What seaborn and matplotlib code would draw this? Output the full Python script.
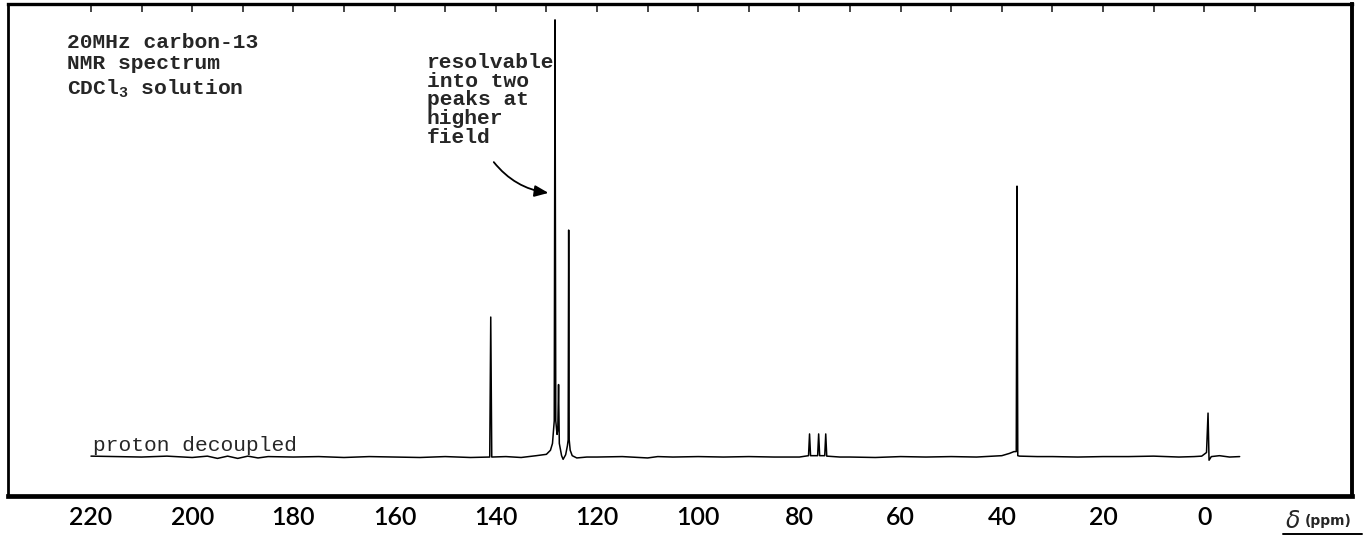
import matplotlib
matplotlib.use("Agg")
import matplotlib.pyplot as plt
import seaborn as sns
import pandas as pd
from matplotlib.patches import FancyArrowPatch
from matplotlib.lines import Line2D

# Estilo base: fondo blanco, sin rejilla
sns.set_theme(style="white")
plt.rcParams['font.family'] = ['Liberation Mono', 'DejaVu Sans']
plt.rcParams['mathtext.fontset'] = 'custom'
plt.rcParams['mathtext.rm'] = 'Liberation Mono:bold'

# Espectro: desplazamiento (ppm) e intensidad (100 = borde superior)
shift_ppm = [
    220.0, 215.0, 210.0, 205.0, 200.0, 197.0, 195.0, 193.0, 191.0, 189.0,
    187.0, 185.0, 180.0, 175.0, 170.0, 165.0, 160.0, 155.0, 150.0, 145.0,
    141.2, 141.0, 140.8, 138.0, 135.0, 132.0, 130.0, 129.2, 128.8, 128.45,
    128.3, 128.15, 127.9, 127.75, 127.6, 127.45, 127.0, 126.7, 126.2, 125.85,
    125.7, 125.6, 125.5, 125.3, 124.9, 124.0, 122.0, 120.0, 115.0, 110.0,
    108.0, 105.0, 100.0, 95.0, 90.0, 85.0, 80.0, 78.2, 78.0, 77.8,
    76.4, 76.2, 76.0, 75.0, 74.8, 74.6, 72.0, 70.0, 65.0, 60.0,
    55.0, 50.0, 45.0, 40.0, 38.5, 37.6, 37.15, 37.0, 36.85, 36.5,
    33.0, 30.0, 25.0, 20.0, 15.0, 10.0, 5.0, 2.0, 0.5, -0.45,
    -0.75, -0.95, -1.4, -3.0, -5.0, -7.0,
]
intensity = [
    0.2, 0.1, 0.0, 0.2, -0.1, 0.2, -0.3, 0.2, -0.3, 0.2,
    -0.2, 0.1, 0.0, 0.1, -0.1, 0.1, 0.0, -0.1, 0.1, -0.1,
    0.0, 30.9, 0.0, 0.1, -0.1, 0.3, 0.6, 1.5, 3.0, 8.0,
    96.5, 8.0, 5.0, 6.0, 16.0, 3.0, 0.3, -0.5, 0.5, 2.5,
    3.8, 50.1, 3.8, 1.5, 0.3, -0.2, 0.0, 0.0, 0.1, -0.2,
    0.1, 0.0, 0.1, 0.0, 0.1, 0.0, 0.0, 0.3, 5.1, 0.3,
    0.3, 5.1, 0.3, 0.3, 5.1, 0.2, 0.0, 0.0, -0.1, 0.1,
    0.0, 0.1, 0.0, 0.3, 0.8, 1.2, 1.2, 59.8, 0.3, 0.2,
    0.1, 0.1, 0.0, 0.1, 0.1, 0.2, 0.0, 0.1, 0.2, 1.0,
    9.7, -0.7, 0.1, 0.3, 0.0, 0.1,
]

# Marcas del eje (cada 10 ppm) y etiquetas (cada 20 ppm)
tick_values = [220, 210, 200, 190, 180, 170, 160, 150, 140, 130, 120, 110,
               100, 90, 80, 70, 60, 50, 40, 30, 20, 10, 0, -10]
tick_labels = ['220', '', '200', '', '180', '', '160', '', '140', '', '120', '',
               '100', '', '80', '', '60', '', '40', '', '20', '', '0', '']

header_lines = ["20MHz carbon-13", "NMR spectrum", r"CDCl$_\mathrm{3}$ solution"]
note_lines = ["resolvable", "into two", "peaks at", "higher", "field"]

W, H = 1369, 536


def fx(x):
    return x / W


def fy(y):
    return 1 - y / H


fig = plt.figure(figsize=(W / 100, H / 100), dpi=100)
ax = fig.add_axes([fx(8), fy(496), (1352 - 8) / W, (496 - 4) / H])

df = pd.DataFrame({'ppm': shift_ppm, 'int': intensity})
sns.lineplot(data=df, x='ppm', y='int', sort=False, estimator=None,
             color='black', lw=1.1, ax=ax)

ax.set_xlim(236.4, -29.2)
ax.set_ylim(-8.6, 100)
ax.set_xlabel('')
ax.set_ylabel('')
ax.set_yticks([])
ax.set_xticks(tick_values)
ax.set_xticklabels(tick_labels)
ax.tick_params(axis='x', direction='in', length=9, width=1.3, pad=7,
               labelsize=18, labelfontfamily='Lato', colors='black')
for lbl in ax.get_xticklabels():
    lbl.set_fontweight('semibold')

# marcas superiores, mas cortas
top = ax.secondary_xaxis('top')
top.set_xticks(tick_values)
top.tick_params(direction='in', length=6, width=1.2, labeltop=False)
top.spines['top'].set_visible(False)

for side, lw in [('left', 2.0), ('top', 2.4), ('right', 2.8), ('bottom', 3.4)]:
    ax.spines[side].set_visible(True)
    ax.spines[side].set_color('black')
    ax.spines[side].set_linewidth(lw)

# Textos
for txt, yb in zip(header_lines, [48, 69, 94]):
    fig.text(fx(67), fy(yb), txt, fontsize=15.3, fontweight='bold',
             ha='left', va='baseline')

for i, txt in enumerate(note_lines):
    fig.text(fx(427), fy(68 + 18.75 * i), txt, fontsize=15.3,
             fontweight='bold', ha='left', va='baseline')

fig.text(fx(93), fy(451), "proton decoupled", fontsize=15.3,
         ha='left', va='baseline')

# flecha curva hacia el pico de 128 ppm
arrow = FancyArrowPatch((140.4, 65.1), (129.6, 58.3),
                        connectionstyle='arc3,rad=0.2',
                        arrowstyle='-|>,head_length=0.6,head_width=0.25',
                        mutation_scale=14, lw=1.3, color='black',
                        shrinkA=0, shrinkB=0)
ax.add_patch(arrow)

# etiqueta del eje: delta (ppm) subrayada
fig.text(fx(1286), fy(528), 'δ', fontsize=17, style='italic',
         family='DejaVu Sans', ha='left', va='baseline')
fig.text(fx(1305), fy(525), '(ppm)', fontsize=10, fontweight='bold',
         family='DejaVu Sans', ha='left', va='baseline')
fig.add_artist(Line2D([fx(1283), fx(1362)], [fy(534), fy(534)],
                      transform=fig.transFigure, color='black', lw=1.4))

fig.savefig('out.png', dpi=100)
